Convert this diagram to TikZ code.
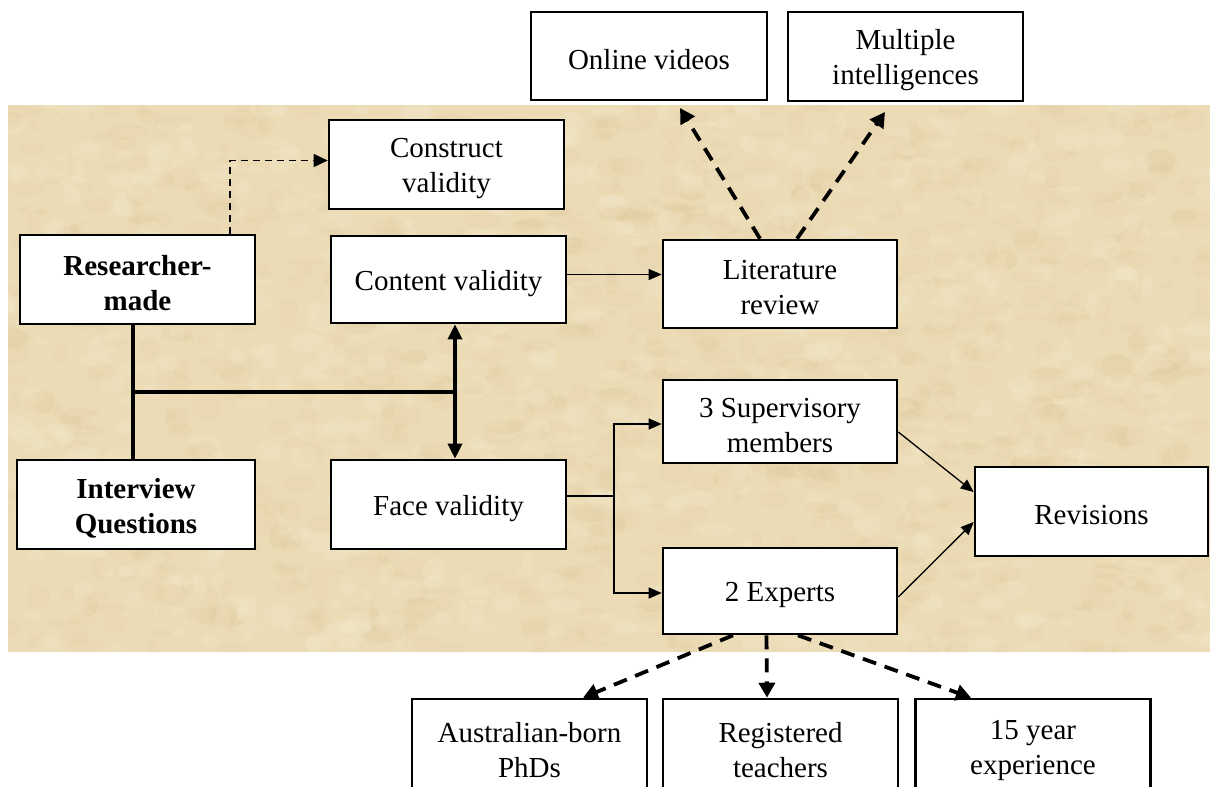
\documentclass[tikz,border=0pt]{standalone}
\usepackage{fontspec}
\setmainfont{Liberation Serif}
\usetikzlibrary{arrows.meta}

\definecolor{parchment}{RGB}{236,220,182}
\definecolor{parchdark}{RGB}{212,186,134}
\definecolor{parchlight}{RGB}{247,238,210}

\begin{document}
\begin{tikzpicture}[x=1pt,y=-1pt,
  boxframe/.style={draw=black, line width=2.6pt, fill=white, inner sep=0pt},
  boxlabel/.style={align=center, inner sep=0pt, yshift=-4pt,
    font=\fontsize{29}{35}\selectfont},
  box/.style={boxframe, label={[boxlabel]center:{#1}}},
  boldbox/.style={boxframe, label={[boxlabel, font=\fontsize{29}{35}\selectfont\bfseries]center:{#1}}},
  thinarrow/.style={line width=1.3pt, -{Triangle[length=13pt,width=11pt]}},
  thinline/.style={line width=1.3pt},
  treeline/.style={line width=3.6pt},
  bigdash/.style={line width=3.8pt, dash pattern=on 14pt off 9pt,
    -{Triangle[length=15pt,width=16pt]}},
  smalldash/.style={line width=1.6pt, dash pattern=on 7pt off 5pt,
    -{Triangle[length=14pt,width=13pt]}},
  duoarrow/.style={line width=3.4pt,
    {Triangle[length=15pt,width=14pt]}-{Triangle[length=15pt,width=14pt]}}
]
\useasboundingbox (0,0) rectangle (1210,787);
\clip (0,0) rectangle (1210,787);

% parchment panel with a mottled texture
\fill[parchment] (8,105) rectangle (1210,652);
\begin{scope}
  \clip (8,105) rectangle (1210,652);
  \pgfmathsetseed{4217}
  \foreach \k in {1,...,900}{
    \pgfmathsetmacro{\px}{8+1202*rnd}
    \pgfmathsetmacro{\py}{105+547*rnd}
    \pgfmathsetmacro{\rx}{5+16*rnd}
    \pgfmathsetmacro{\ry}{3+10*rnd}
    \fill[parchdark, opacity=0.10] (\px,\py) ellipse [x radius=\rx, y radius=\ry];
  }
  \foreach \k in {1,...,700}{
    \pgfmathsetmacro{\px}{8+1202*rnd}
    \pgfmathsetmacro{\py}{105+547*rnd}
    \pgfmathsetmacro{\rx}{4+14*rnd}
    \pgfmathsetmacro{\ry}{3+9*rnd}
    \fill[parchlight, opacity=0.18] (\px,\py) ellipse [x radius=\rx, y radius=\ry];
  }
\end{scope}

% boxes
\node[box={Online videos}, minimum width=236pt, minimum height=88pt] (ov) at (649,56) {};
\node[box={Multiple\\intelligences}, minimum width=235pt, minimum height=89pt] (mi) at (905.5,56.5) {};
\node[box={Construct\\validity}, minimum width=235pt, minimum height=89pt] (cv) at (446.5,164.5) {};
\node[boldbox={Researcher-\\made}, minimum width=235pt, minimum height=89pt] (rm) at (137.5,279.5) {};
\node[box={Content validity}, minimum width=235pt, minimum height=87pt] (cnt) at (448.5,279.5) {};
\node[box={Literature\\review}, minimum width=234pt, minimum height=88pt] (lit) at (780,284) {};
\node[box={3 Supervisory\\members}, minimum width=234pt, minimum height=83pt] (sup) at (780,421.5) {};
\node[boldbox={Interview\\Questions}, minimum width=238pt, minimum height=89pt] (iq) at (136,504.5) {};
\node[box={Face validity}, minimum width=235pt, minimum height=89pt] (fv) at (448.5,504.5) {};
\node[box={2 Experts}, minimum width=234pt, minimum height=86pt] (exp) at (780,591) {};
\node[box={Revisions}, minimum width=233pt, minimum height=89pt] (rev) at (1091.5,511.5) {};
\node[box={Australian-born\\PhDs}, minimum width=235pt, minimum height=95pt] (au) at (529.5,746.5) {};
\node[box={Registered\\teachers}, minimum width=235pt, minimum height=95pt] (reg) at (780.5,746.5) {};
\node[box={15 year\\experience}, minimum width=235pt, minimum height=95pt] (yr) at (1033,746.5) {};

% free ends of the literature-review arrows
\coordinate (ovtip) at (680,108);
\coordinate (mitip) at (885,112);

% researcher-made to construct validity
\draw[smalldash] ([xshift=92.5pt]rm.north) |- ([yshift=4pt]cv.west);

% researcher-made / interview questions tree
\coordinate (trunk) at (133,392);
\coordinate (vx) at (455,392);
\draw[treeline] (rm.south -| trunk) -- (iq.north -| trunk);
\draw[treeline] (trunk) -- (vx);
\draw[duoarrow] (cnt.south -| vx) -- (fv.north -| vx);

% content validity to literature review
\draw[thinarrow] ([yshift=5pt]cnt.east) -- ([yshift=5pt]cnt.east -| lit.west);
\draw[bigdash] ([xshift=-20pt]lit.north) -- (ovtip);
\draw[bigdash] ([xshift=17pt]lit.north) -- (mitip);

% face validity fork
\coordinate (fork) at (614,496);
\draw[thinline] (fv.east |- fork) -- (fork);
\draw[thinarrow] (fork) |- ([yshift=-2.5pt]sup.west);
\draw[thinarrow] (fork) |- ([yshift=-2pt]exp.west);

% reviewers to revisions
\draw[thinarrow] ([yshift=-10.5pt]sup.east) -- ([yshift=19.5pt]rev.west);
\draw[thinarrow] ([yshift=-6pt]exp.east) -- ([yshift=-10.5pt]rev.west);

% experts' profile
\draw[bigdash] ([xshift=-47pt]exp.south) -- ([xshift=53.5pt]au.north);
\draw[bigdash] ([xshift=-13.5pt]exp.south) -- ([xshift=-13.5pt]reg.north);
\draw[bigdash] ([xshift=18pt]exp.south) -- ([xshift=-62pt]yr.north);
\end{tikzpicture}
\end{document}
